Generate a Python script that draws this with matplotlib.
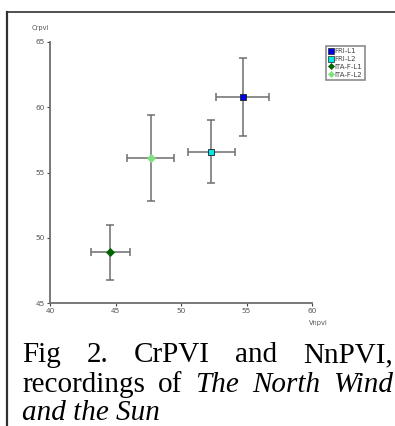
import matplotlib
matplotlib.use("Agg")
import matplotlib.pyplot as plt
from matplotlib.lines import Line2D

series = ["FRI-L1", "FRI-L2", "ITA-F-L1", "ITA-F-L2"]
vnpvi = [54.7, 52.3, 44.6, 47.7]
vnpvi_err = [2.0, 1.8, 1.5, 1.8]
crpvi = [60.8, 56.6, 48.9, 56.1]
crpvi_err = [3.0, 2.4, 2.1, 3.3]
colors = ["#0000E8", "#00E8E8", "#006400", "#80E080"]
markers = ["s", "s", "D", "D"]
msizes = [5.0, 5.0, 3.6, 3.6]
xticks = [40, 45, 50, 55, 60]
yticks = [45, 50, 55, 60, 65]
caption_lines = [
    [("Fig", "normal"), ("2.", "normal"), ("CrPVI", "normal"), ("and", "normal"), ("NnPVI,", "normal")],
    [("recordings", "normal"), ("of", "normal"), ("The", "italic"), ("North", "italic"), ("Wind", "italic")],
    [("and the Sun", "italic")],
]

W, H = 395, 426
fig = plt.figure(figsize=(W / 100, H / 100), dpi=100)
ax = fig.add_axes([50 / W, 1 - 303 / H, (312 - 50) / W, (303 - 42) / H])

for i in range(len(series)):
    ax.errorbar(vnpvi[i], crpvi[i], xerr=vnpvi_err[i], yerr=crpvi_err[i],
                fmt="none", ecolor="#6e6e6e", elinewidth=1.1, capsize=2.6, capthick=1.1, zorder=2)
    ax.plot(vnpvi[i], crpvi[i], marker=markers[i], ms=msizes[i], color=colors[i],
            mec="#202020" if markers[i] == "s" else colors[i], mew=0.6, ls="none", zorder=3)

ax.set_xlim(40, 60)
ax.set_ylim(45, 65)
ax.set_xticks(xticks)
ax.set_yticks(yticks)
ax.tick_params(labelsize=5.3, colors="#444444", length=2, width=0.8, pad=1.5)
for t in ax.get_xticklabels() + ax.get_yticklabels():
    t.set_color("#555555")
for s in ["top", "right"]:
    ax.spines[s].set_visible(False)
for s in ["left", "bottom"]:
    ax.spines[s].set_color("#6e6e6e")
    ax.spines[s].set_linewidth(1.3)

fig.text(40 / W, 1 - 28 / H, "Crpvi", fontsize=4.8, color="#555555", ha="center", va="center")
fig.text(318 / W, 1 - 323 / H, "Vnpvi", fontsize=4.8, color="#555555", ha="center", va="center")

handles = [Line2D([], [], marker=markers[i], ms=msizes[i] - 0.5, color=colors[i], ls="none",
                  mec="#202020" if markers[i] == "s" else colors[i], mew=0.5) for i in range(len(series))]
leg = ax.legend(handles, series, loc="upper left", bbox_to_anchor=((326 - 50) / 262, 1 - (46 - 42) / 261),
                fontsize=5, frameon=True, fancybox=False, borderpad=0.35, labelspacing=0.25,
                handlelength=0.6, handletextpad=0.3, borderaxespad=0)
leg.get_frame().set_edgecolor("#6e6e6e")
leg.get_frame().set_linewidth(1.2)
for t in leg.get_texts():
    t.set_color("#444444")

# frame lines
fig.add_artist(Line2D([7 / W, 1], [1 - 12 / H, 1 - 12 / H], color="#505050", lw=1.4))
fig.add_artist(Line2D([7 / W, 7 / W], [1 - 12 / H, 0], color="#303030", lw=1.6))

# justified caption
fig.canvas.draw()
renderer = fig.canvas.get_renderer()
x0, x1 = 22, 393
baselines = [362, 392, 420]
fs = 21
for li, words in enumerate(caption_lines):
    y = 1 - baselines[li] / H
    texts = [fig.text(0, y, w, fontsize=fs, family="Liberation Serif", style=st, va="baseline", ha="left")
             for w, st in words]
    widths = [t.get_window_extent(renderer).width for t in texts]
    if li < len(caption_lines) - 1 and len(texts) > 1:
        gap = (x1 - x0 - sum(widths)) / (len(texts) - 1)
    else:
        gap = 5
    x = x0
    for t, w in zip(texts, widths):
        t.set_x(x / W)
        x += w + gap

fig.savefig("out.png", dpi=100)
